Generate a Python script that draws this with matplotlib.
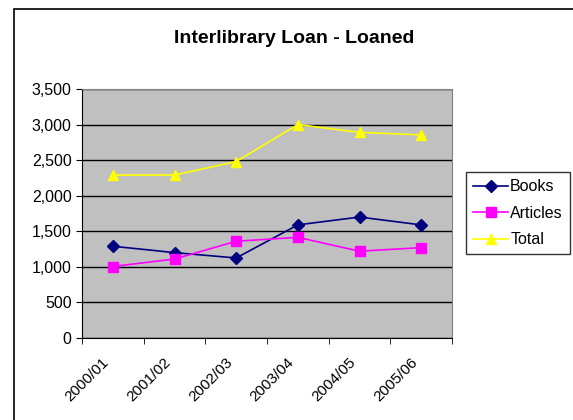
import matplotlib.pyplot as plt
from matplotlib.patches import Rectangle
from matplotlib.ticker import FuncFormatter, MultipleLocator
from matplotlib.transforms import ScaledTranslation

plt.rcParams['font.family'] = ['Liberation Sans', 'DejaVu Sans']

years = ["2000/01", "2001/02", "2002/03", "2003/04", "2004/05", "2005/06"]
books = [1290, 1200, 1125, 1590, 1700, 1590]
articles = [1005, 1110, 1360, 1415, 1220, 1270]
total = [2290, 2290, 2480, 3000, 2890, 2855]

fig = plt.figure(figsize=(5.73, 4.2), dpi=100)
# outer chart border (runs off right/bottom like the original)
fig.patches.append(Rectangle((14 / 573, -0.1), 1.2, 1.1 - 9 / 420,
                             transform=fig.transFigure, fill=False,
                             edgecolor='black', linewidth=1.2))

ax = fig.add_axes([82 / 573, 1 - 338 / 420, 370 / 573, 249 / 420])
ax.set_facecolor('#C0C0C0')
x = list(range(len(years)))

ax.plot(x, books, color='#000080', marker='D', markersize=6, linewidth=1.2, label='Books')
ax.plot(x, articles, color='#FF00FF', marker='s', markersize=6.5, linewidth=1.2, label='Articles')
ax.plot(x, total, color='#FFFF00', marker='^', markersize=7.5, linewidth=1.2, label='Total')

ax.set_xlim(-0.5, len(years) - 0.5)
ax.set_ylim(0, 3500)
ax.yaxis.set_major_locator(MultipleLocator(500))
ax.yaxis.set_major_formatter(FuncFormatter(lambda v, p: f"{int(v):,}"))
ax.grid(axis='y', color='black', linewidth=1)
ax.set_axisbelow(True)

ax.set_xticks(x)
ax.set_xticklabels(years, rotation=45, ha='right', va='center', rotation_mode='anchor')
ax.set_xticks([i - 0.5 for i in range(len(years) + 1)], minor=True)
ax.tick_params(axis='x', which='major', length=0, pad=16, labelsize=11)
ax.tick_params(axis='x', which='minor', length=4, color='black')
ax.tick_params(axis='y', length=4, color='black', labelsize=11.5)

# nudge rotated labels left a little (after tick_params, which resets transforms)
shift = ScaledTranslation(-6 / 100, 0, fig.dpi_scale_trans)
for lbl in ax.get_xticklabels():
    lbl.set_transform(lbl.get_transform() + shift)

for side in ['top', 'right']:
    ax.spines[side].set_color('#808080')
for side in ['left', 'bottom']:
    ax.spines[side].set_color('black')

fig.text(294.5 / 573, 1 - 43 / 420, 'Interlibrary Loan - Loaned', ha='center', va='baseline',
         fontsize=14, fontweight='bold')

leg = fig.legend(loc='upper left', bbox_to_anchor=(466 / 573, 1 - 172 / 420),
                 fontsize=11.5, frameon=True, fancybox=False, edgecolor='black',
                 borderpad=0.45, handlelength=2.2, handletextpad=0.12, labelspacing=0.72,
                 borderaxespad=0)
leg.get_frame().set_linewidth(1)

fig.savefig('out.png', dpi=100)
